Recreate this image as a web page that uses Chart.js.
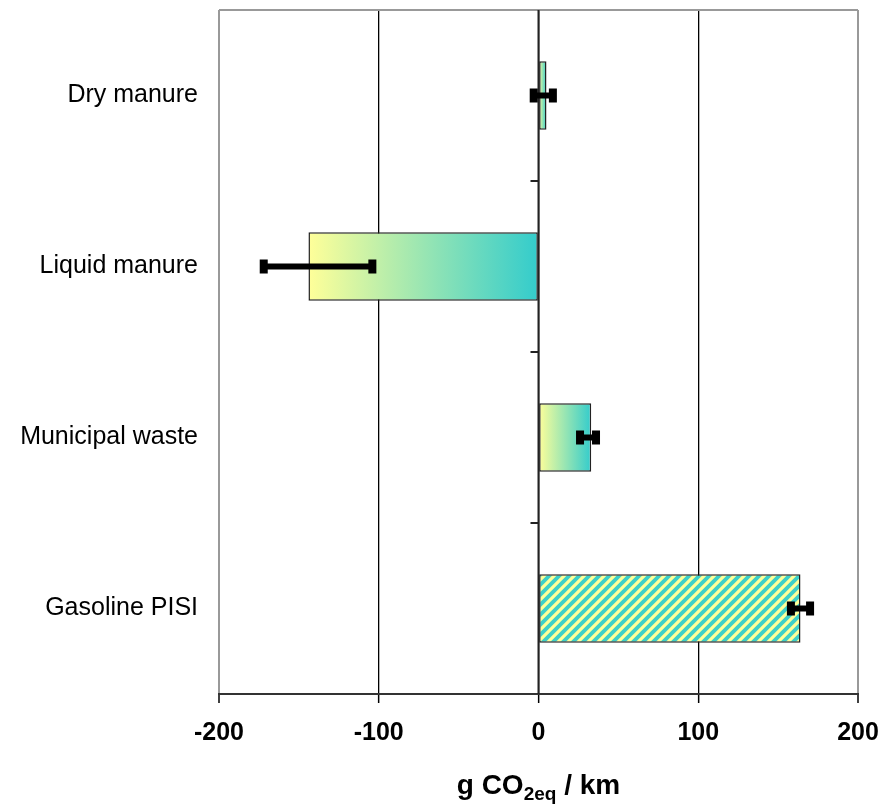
<!DOCTYPE html>
<html>
<head>
<meta charset="utf-8">
<title>g CO2eq / km</title>
<script src="https://cdn.jsdelivr.net/npm/chart.js@4.4.1/dist/chart.umd.min.js"></script>
<style>
  html, body { margin: 0; padding: 0; background: #fff; }
  #wrap { position: relative; width: 896px; height: 806px; }
  #axisTitle {
    position: absolute; left: 219px; width: 639px; top: 770px;
    text-align: center; color: #000;
    font: bold 28px 'Liberation Sans', Arial, sans-serif;
    line-height: 30px;
  }
  #axisTitle sub { font-size: 19px; vertical-align: -6px; line-height: 0; }
</style>
</head>
<body>
<div id="wrap">
  <canvas id="c" width="896" height="806"></canvas>
  <div id="axisTitle">g CO<sub>2eq</sub> / km</div>
</div>
<script>
var categories = ['Dry manure', 'Liquid manure', 'Municipal waste', 'Gasoline PISI'];
var values = [5, -144, 33, 164];
var errLow = [-3, -172, 26, 158];
var errHigh = [9, -104, 36, 170];
var xTicks = [-200, -100, 0, 100, 200];

var FONT = "'Liberation Sans', Arial, sans-serif";
var YELLOW = '#ffff99';
var TEAL = '#33cccc';

// diagonal stripes for the last bar
function stripes() {
  var s = 10;
  var cv = document.createElement('canvas');
  cv.width = s; cv.height = s;
  var g = cv.getContext('2d');
  g.fillStyle = '#3dd0c8';
  g.fillRect(0, 0, s, s);
  g.strokeStyle = YELLOW;
  g.lineWidth = 3.2;
  g.beginPath();
  g.moveTo(-1, s + 1); g.lineTo(s + 1, -1);
  g.moveTo(-3, 3); g.lineTo(3, -3);
  g.moveTo(s - 3, s + 3); g.lineTo(s + 3, s - 3);
  g.stroke();
  return g.createPattern(cv, 'repeat');
}

function barFill(ctx) {
  var chart = ctx.chart;
  if (ctx.dataIndex === 3) return stripes();
  var x = chart.scales.x;
  if (!chart.chartArea || !x) return TEAL;
  var v = values[ctx.dataIndex];
  var a = x.getPixelForValue(Math.min(0, v));
  var b = x.getPixelForValue(Math.max(0, v));
  var gr = chart.ctx.createLinearGradient(a, 0, b, 0);
  gr.addColorStop(0, YELLOW);
  gr.addColorStop(1, TEAL);
  return gr;
}

var frame = {
  id: 'frame',
  beforeDatasetsDraw: function(chart) {
    var c = chart.ctx, a = chart.chartArea;
    c.save();
    c.strokeStyle = '#999';
    c.lineWidth = 2;
    c.beginPath();
    c.moveTo(a.left, a.top); c.lineTo(a.right, a.top);
    c.stroke();
    c.restore();
  },
  afterDatasetsDraw: function(chart) {
    var c = chart.ctx, a = chart.chartArea;
    var x = chart.scales.x, y = chart.scales.y;
    var x0 = x.getPixelForValue(0);
    c.save();
    // category axis at zero, with ticks between categories
    c.strokeStyle = '#222';
    c.lineWidth = 2;
    c.beginPath();
    c.moveTo(x0, a.top); c.lineTo(x0, a.bottom);
    for (var k = 1; k < categories.length; k++) {
      var yb = (y.getPixelForValue(k - 1) + y.getPixelForValue(k)) / 2;
      c.moveTo(x0, yb); c.lineTo(x0 - 8, yb);
    }
    c.stroke();
    // error bars
    c.fillStyle = '#000';
    for (var i = 0; i < values.length; i++) {
      var yc = y.getPixelForValue(i);
      var x1 = x.getPixelForValue(errLow[i]);
      var x2 = x.getPixelForValue(errHigh[i]);
      c.fillRect(x1, yc - 3, x2 - x1, 6);
      c.fillRect(x1 - 4, yc - 7, 8, 14);
      c.fillRect(x2 - 4, yc - 7, 8, 14);
    }
    c.restore();
  }
};

new Chart(document.getElementById('c'), {
  type: 'bar',
  data: {
    labels: categories,
    datasets: [{
      data: values,
      backgroundColor: barFill,
      borderColor: '#222',
      borderWidth: 1.5,
      borderSkipped: false,
      barPercentage: 0.4,
      categoryPercentage: 1
    }]
  },
  options: {
    indexAxis: 'y',
    responsive: false,
    animation: false,
    events: [],
    layout: { padding: { top: 10, right: 38, left: 0, bottom: 0 } },
    plugins: { legend: { display: false }, tooltip: { enabled: false } },
    scales: {
      x: {
        min: -200, max: 200,
        afterBuildTicks: function(s) { s.ticks = xTicks.map(function(v) { return { value: v }; }); },
        afterFit: function(s) { s.height = 112; s.paddingLeft = 0; s.paddingRight = 0; },
        grid: {
          color: function(ctx) { return Math.abs(ctx.tick.value) === 200 ? '#999' : '#000'; },
          lineWidth: function(ctx) { return Math.abs(ctx.tick.value) === 200 ? 2 : 1.3; },
          tickLength: 9,
          tickColor: '#000',
          tickWidth: 1.5
        },
        border: { color: '#333', width: 2 },
        ticks: { color: '#000', padding: 15, font: { family: FONT, size: 25, weight: 'bold' } }
      },
      y: {
        afterFit: function(s) { s.width = 219; s.paddingTop = 0; s.paddingBottom = 0; },
        grid: { display: false, drawTicks: false },
        border: { display: false },
        ticks: { color: '#000', padding: 21, font: { family: FONT, size: 25 } }
      }
    }
  },
  plugins: [frame]
});
</script>
</body>
</html>
